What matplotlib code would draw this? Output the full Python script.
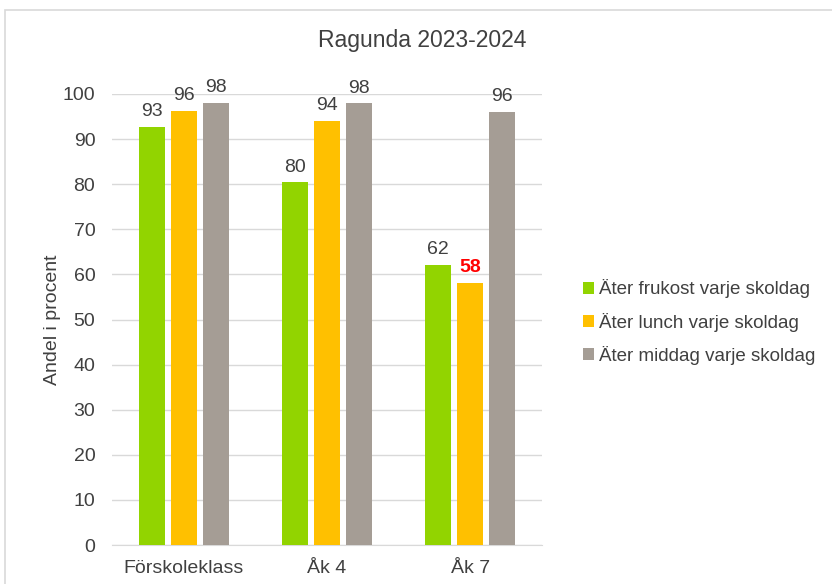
import numpy as np
import matplotlib.pyplot as plt
from matplotlib.patches import Rectangle

# data
kategorier = ['Förskoleklass', 'Åk 4', 'Åk 7']
frukost = [92.7, 80.4, 62.1]
lunch = [96.2, 94.0, 58.1]
middag = [98.1, 97.9, 96.0]
serier = ['Äter frukost varje skoldag', 'Äter lunch varje skoldag', 'Äter middag varje skoldag']
farger = ['#92D400', '#FFC000', '#A59D95']
yticks = [0, 10, 20, 30, 40, 50, 60, 70, 80, 90, 100]

plt.rcParams['font.family'] = ['Liberation Sans', 'DejaVu Sans']
textfarg = '#404040'
fs = 14

fig = plt.figure(figsize=(8.32, 5.84), dpi=100)
# ram runt diagrammet
fig.patches.append(Rectangle((5 / 832, -0.1), 1.2, 1 - 10 / 584 + 0.1, transform=fig.transFigure,
                             fill=False, edgecolor='#d9d9d9', linewidth=1.2))

ax = fig.add_axes([112 / 832, 1 - 545 / 584, 430 / 832, (545 - 94) / 584])
x = np.arange(len(kategorier))
bredd = 0.18
steg = 0.223
for i, (varden, namn, f) in enumerate(zip([frukost, lunch, middag], serier, farger)):
    bars = ax.bar(x + (i - 1) * steg, varden, bredd, color=f, label=namn, zorder=3)
    for j, b in enumerate(bars):
        v = varden[j]
        if i == 1 and j == 2:
            ax.text(b.get_x() + b.get_width() / 2, v + 1.5, f'{round(v)}', ha='center', va='bottom',
                    color='#FF0000', fontsize=fs, fontweight='bold', clip_on=False)
        else:
            ax.text(b.get_x() + b.get_width() / 2, v + 1.5, f'{round(v)}', ha='center', va='bottom',
                    color=textfarg, fontsize=fs, clip_on=False)

ax.set_xlim(-0.5, 2.5)
ax.set_ylim(0, 100)
ax.set_yticks(yticks)
ax.set_xticks(x)
ax.set_xticklabels(kategorier)
ax.tick_params(axis='both', length=0, labelsize=fs, labelcolor=textfarg)
ax.tick_params(axis='x', pad=11)
ax.tick_params(axis='y', pad=12)
ax.grid(axis='y', color='#d9d9d9', linewidth=1, zorder=0)
for s in ['top', 'right', 'left']:
    ax.spines[s].set_visible(False)
ax.spines['bottom'].set_color('#d9d9d9')
ax.set_ylabel('Andel i procent', fontsize=fs, color=textfarg, labelpad=1)

fig.text(422 / 832, 1 - 40 / 584, 'Ragunda 2023-2024', ha='center', va='center', fontsize=16.5, color=textfarg)

ax.legend(loc='center left', bbox_to_anchor=(566 / 832, 1 - 322 / 584), bbox_transform=fig.transFigure,
          frameon=False, fontsize=13.5, labelcolor=textfarg, handlelength=0.6, handleheight=0.6,
          handletextpad=0.25, labelspacing=0.75)

fig.savefig('out.png', dpi=100)
